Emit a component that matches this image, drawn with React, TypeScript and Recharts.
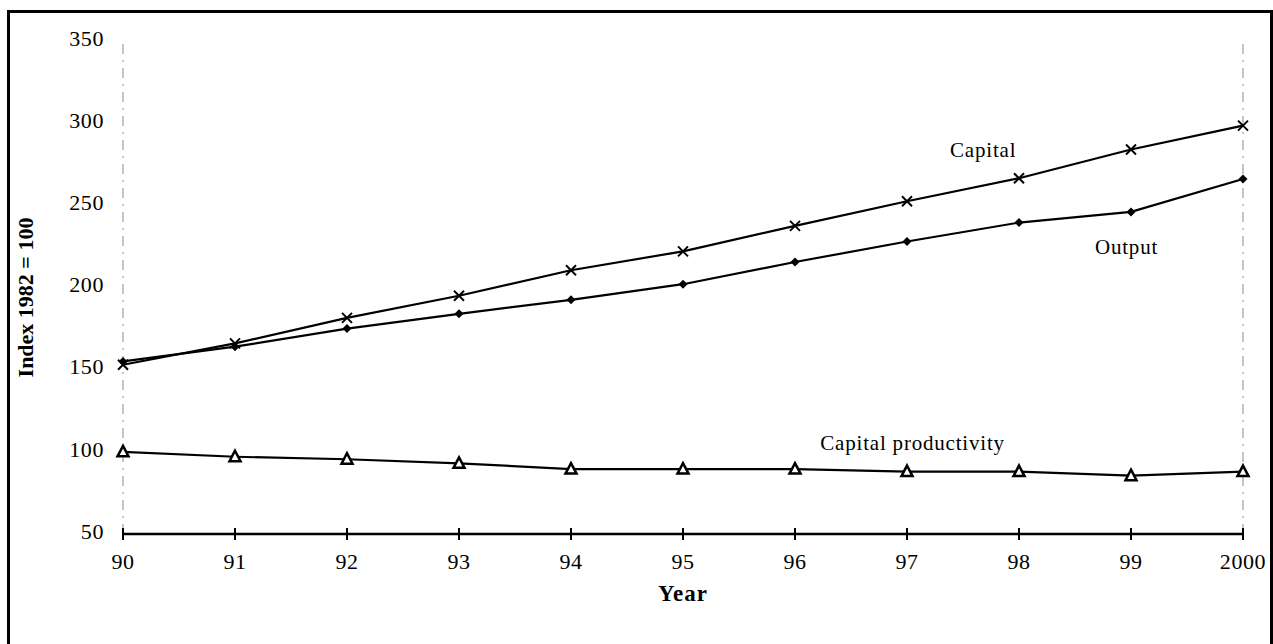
import { LineChart, Line, XAxis, YAxis, ReferenceLine, ReferenceDot } from 'recharts';

const years = [1990, 1991, 1992, 1993, 1994, 1995, 1996, 1997, 1998, 1999, 2000];
const capital = [153, 166, 181.5, 195, 210.5, 222, 237.5, 252.5, 266.5, 284, 298.5];
const output = [155, 164, 175, 184, 192.5, 202, 215.5, 228, 239.5, 246, 266];
const capitalProductivity = [100, 97, 95.5, 93, 89.5, 89.5, 89.5, 88, 88, 85.5, 88];
const yTicks = [50, 100, 150, 200, 250, 300, 350];

const data = years.map((year, i) => ({
  year,
  capital: capital[i],
  output: output[i],
  productivity: capitalProductivity[i],
}));

const FONT = '"Liberation Serif", "Times New Roman", serif';
const TICK_SIZE = 6;
const TICK_MARGIN = 13;

const yearLabel = (v: number) => (v === 2000 ? '2000' : String(v - 1900));

function YearTick(props: any) {
  const { x, y, payload } = props;
  const axisY = y - TICK_SIZE - TICK_MARGIN;
  return (
    <g>
      <line x1={x} x2={x} y1={axisY - 6} y2={axisY + 6} stroke="#000" strokeWidth={2} />
      <text x={x} y={y} dy="0.71em" textAnchor="middle" fill="#000" fontSize={22} letterSpacing={0.6} fontFamily={FONT}>
        {yearLabel(payload.value)}
      </text>
    </g>
  );
}

// value labels sit a few px above their gridline value, like the original
function IndexTick(props: any) {
  const { x, y, payload } = props;
  return (
    <text x={x} y={y - 3} dy="0.355em" textAnchor="end" fill="#000" fontSize={22} letterSpacing={0.6} fontFamily={FONT}>
      {payload.value}
    </text>
  );
}

// rotated y axis title, centred a bit below the middle of the plot
function IndexLabel(props: any) {
  const { viewBox } = props;
  const x = viewBox.x + 12;
  const y = viewBox.y + viewBox.height / 2 + 10;
  return (
    <text
      x={x}
      y={y}
      transform={`rotate(-90 ${x} ${y})`}
      textAnchor="middle"
      dominantBaseline="central"
      fill="#000"
      fontSize={22}
      fontWeight="bold"
      fontFamily={FONT}
    >
      Index 1982 = 100
    </text>
  );
}

// markers
function CrossDot(props: any) {
  const { cx, cy, index } = props;
  const s = 5;
  return (
    <g key={`x-${index}`}>
      <line x1={cx - s} y1={cy - s} x2={cx + s} y2={cy + s} stroke="#000" strokeWidth={2} />
      <line x1={cx - s} y1={cy + s} x2={cx + s} y2={cy - s} stroke="#000" strokeWidth={2} />
    </g>
  );
}

function DiamondDot(props: any) {
  const { cx, cy, index } = props;
  const s = 4.5;
  return <path key={`d-${index}`} d={`M${cx},${cy - s}L${cx + s},${cy}L${cx},${cy + s}L${cx - s},${cy}Z`} fill="#000" />;
}

function TriangleDot(props: any) {
  const { cx, cy, index } = props;
  return (
    <path
      key={`t-${index}`}
      d={`M${cx},${cy - 6}L${cx + 5.5},${cy + 4.5}L${cx - 5.5},${cy + 4.5}Z`}
      fill="#fff"
      stroke="#000"
      strokeWidth={2.5}
    />
  );
}

const labelStyle = { fontSize: 21, fontFamily: FONT, fill: '#000', letterSpacing: 0.8 };

export default function App() {
  return (
    <div style={{ position: 'absolute', left: 0, top: 0, width: 1273, height: 644, overflow: 'hidden', background: '#fff' }}>
      <div
        style={{
          position: 'absolute',
          left: 7,
          top: 10,
          width: 1266,
          height: 700,
          border: '3px solid #000',
          boxSizing: 'border-box',
        }}
      />
      <div style={{ position: 'absolute', left: 0, top: 0 }}>
        <LineChart width={1273} height={644} data={data} margin={{ top: 41, right: 30, bottom: 40, left: 13 }}>
          <XAxis
            dataKey="year"
            type="number"
            domain={[1990, 2000]}
            ticks={years}
            interval={0}
            tick={<YearTick />}
            tickLine={false}
            tickSize={TICK_SIZE}
            tickMargin={TICK_MARGIN}
            axisLine={{ stroke: '#000', strokeWidth: 2.5 }}
            height={70}
            label={{
              value: 'Year',
              position: 'insideBottom',
              offset: 3,
              style: { ...labelStyle, fontSize: 23, fontWeight: 'bold', letterSpacing: 1 },
            }}
          />
          <YAxis
            type="number"
            domain={[50, 350]}
            ticks={yTicks}
            interval={0}
            width={110}
            axisLine={false}
            tickLine={false}
            tickSize={6}
            tickMargin={13}
            tick={<IndexTick />}
            label={<IndexLabel />}
          />
          <ReferenceLine x={1990} stroke="#8a8a8a" strokeDasharray="10 6 2 6" />
          <ReferenceLine x={2000} stroke="#8a8a8a" strokeDasharray="10 6 2 6" />
          <Line dataKey="productivity" stroke="#000" strokeWidth={2.2} dot={TriangleDot} activeDot={false} isAnimationActive={false} />
          <Line dataKey="output" stroke="#000" strokeWidth={2.2} dot={DiamondDot} activeDot={false} isAnimationActive={false} />
          <Line dataKey="capital" stroke="#000" strokeWidth={2.2} dot={CrossDot} activeDot={false} isAnimationActive={false} />
          <ReferenceDot x={1997.68} y={283.7} r={0} fill="none" stroke="none" label={{ value: 'Capital', position: 'center', style: labelStyle }} />
          <ReferenceDot x={1998.96} y={224.7} r={0} fill="none" stroke="none" label={{ value: 'Output', position: 'center', style: labelStyle }} />
          <ReferenceDot
            x={1997.05}
            y={105.4}
            r={0}
            fill="none"
            stroke="none"
            label={{ value: 'Capital productivity', position: 'center', style: labelStyle }}
          />
        </LineChart>
      </div>
    </div>
  );
}
